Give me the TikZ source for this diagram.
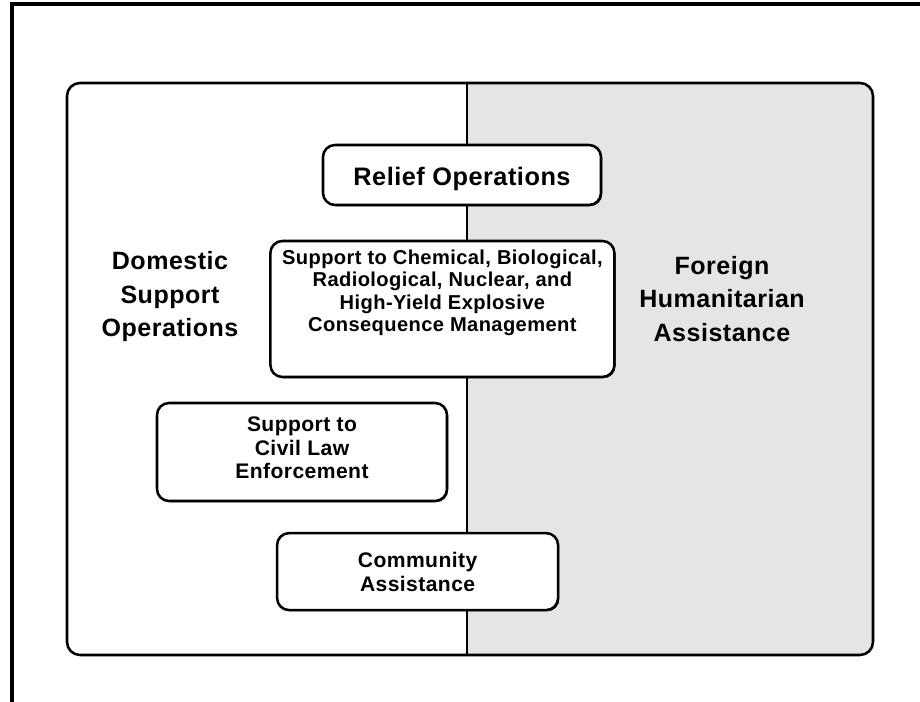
\documentclass[tikz,border=0pt]{standalone}
\usepackage{fontspec}
\setmainfont{Liberation Sans}
\usetikzlibrary{positioning,shadows}
\definecolor{fhagray}{HTML}{E5E5E5}
\newcommand{\opfont}[2]{\fontsize{#1}{#2}\selectfont\bfseries\addfontfeature{LetterSpace=2}}

\begin{document}
\begin{tikzpicture}[opbox/.style={rectangle,rounded corners=0.3cm,draw=black,line width=1.8pt,fill=white,inner sep=0pt,
    drop shadow={shadow xshift=0.8pt,shadow yshift=-0.8pt,fill=black,opacity=1}},
  optext/.style={align=center,inner sep=0pt}]
\useasboundingbox (0,0) rectangle (23,17.55);
% outer frame
\draw[black,line width=2.85pt] (0.3,0) -- (0.3,17.45) -- (23,17.45);
% two halves
\begin{scope}
\clip[rounded corners=0.325cm] (1.675,1.175) rectangle (21.825,15.475);
\fill[fhagray] (11.675,1.175) rectangle (21.825,15.475);
\end{scope}
\draw[black,line width=1.8pt,rounded corners=0.325cm] (1.675,1.175) rectangle (21.825,15.475);
\draw[black,line width=2.1pt] (11.675,1.175) -- (11.675,15.475);

\node[optext,font={\opfont{17.8}{23.8}}] (dso) at (4.25,10.13) {Domestic\\Support\\Operations};
\node[optext,font={\opfont{17.8}{23.8}}] (fha) at (18.05,10.08) {Foreign\\Humanitarian\\Assistance};

% boxes
\node[opbox,minimum width=6.95cm,minimum height=1.5cm] (relief) at (11.55,13.175) {};
\node[optext,font={\opfont{18}{21}}] (relieftext) at ([yshift=-0.1cm]relief.center) {Relief Operations};
\node[opbox,minimum width=8.6cm,minimum height=3.4cm] (cbrne) at (11.06,9.825) {};
\node[optext,font={\opfont{14.3}{16}}] (cbrnetext) at ([yshift=0.4cm]cbrne.center) {Support to Chemical, Biological,\\Radiological, Nuclear, and\\High-Yield Explosive\\Consequence Management};
\node[opbox,minimum width=7.25cm,minimum height=2.45cm] (civil) at (7.55,6.25) {};
\node[optext,font={\opfont{15}{16.7}}] (civiltext) at ([yshift=0.1cm]civil.center) {Support to\\Civil Law\\Enforcement};
\node[opbox,minimum width=7.025cm,minimum height=1.925cm] (community) at (10.44,3.26) {};
\node[optext,font={\opfont{15}{17}}] (communitytext) at (community.center) {Community\\Assistance};
\end{tikzpicture}
\end{document}
